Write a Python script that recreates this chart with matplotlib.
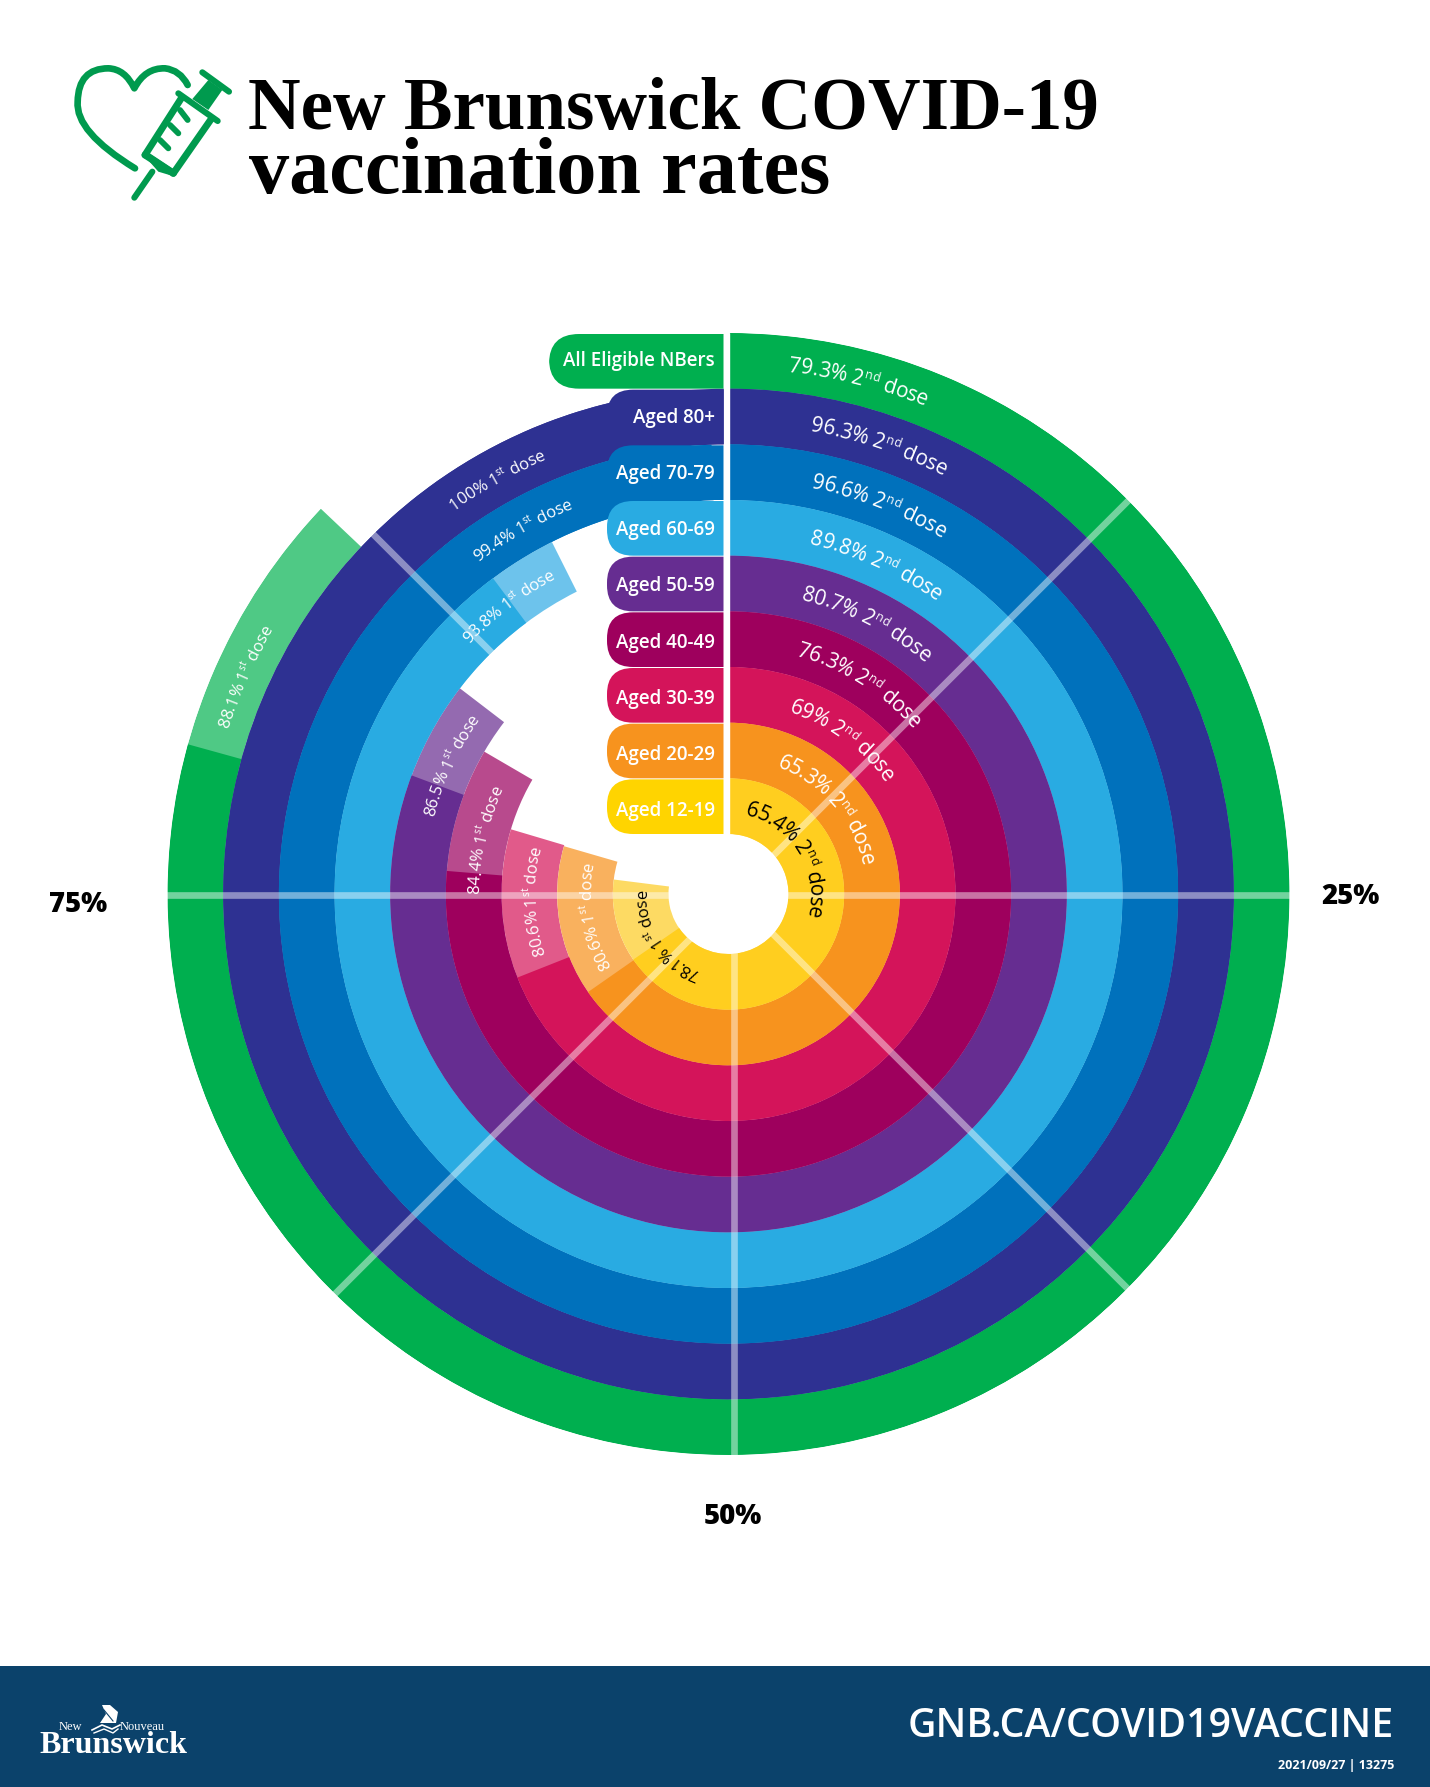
import numpy as np
import matplotlib
matplotlib.use('Agg')
import matplotlib.pyplot as plt
from matplotlib import font_manager as fm
from matplotlib.ft2font import LoadFlags
from matplotlib.patches import PathPatch, Rectangle, Polygon
from matplotlib.path import Path
from matplotlib.transforms import Affine2D

plt.rcParams['font.family'] = ['Open Sans', 'DejaVu Sans']

# --- Data, outermost ring first ---
groups = ['All Eligible NBers', 'Aged 80+', 'Aged 70-79', 'Aged 60-69', 'Aged 50-59',
          'Aged 40-49', 'Aged 30-39', 'Aged 20-29', 'Aged 12-19']
second_dose = [79.3, 96.3, 96.6, 89.8, 80.7, 76.3, 69, 65.3, 65.4]
first_dose = [88.1, 100, 99.4, 93.8, 86.5, 84.4, 80.6, 80.6, 78.1]
# the light arcs in the picture stop about a point short of their printed value
first_dose_drawn = [87.05, 100, 99.4, 92.6, 85.4, 83.4, 79.6, 79.5, 77.0]
spoke_percents = [12.5, 25, 37.5, 50, 62.5, 75, 87.5]
tick_labels = ['25%', '50%', '75%']

colors = ['#00AF4F', '#2E3192', '#0071BC', '#29ABE2', '#662D91',
          '#9E005D', '#D4145A', '#F7931E', '#FFCE1F']
light_colors = ['#4FC985', '#2E3192', '#0071BC', '#6DC3EC', '#946AB0',
                '#B84A8D', '#E15A8A', '#F9B15E', '#FDDA63']
pill_colors = colors[:-1] + ['#FFD400']
text_colors = ['white'] * 8 + ['black']

# where each curved label is centred, degrees clockwise from the top
second_label_at = [14.25, 18.6, 21.25, 24.25, 27.1, 32.05, 36.45, 49.35, 58.95]
first_label_at = [294.2, 330.75, 330.45, 322.6, 294.85, 282.5, 267.85, 260.5, 236.3]

W, H = 1430, 1787
CX, CY, R_IN, R_OUT = 728.5, 894, 60, 561
RING = (R_OUT - R_IN) / len(groups)
DPI = 100

fig = plt.figure(figsize=(W / DPI, H / DPI), dpi=DPI, facecolor='white')

# pixel canvas for everything that is not on the dial
bg = fig.add_axes([0, 0, 1, 1], zorder=0)
bg.set_xlim(0, W)
bg.set_ylim(H, 0)
bg.axis('off')

pol = fig.add_axes([(CX - R_OUT) / W, (H - CY - R_OUT) / H, 2 * R_OUT / W, 2 * R_OUT / H],
                   projection='polar', zorder=1)
pol.set_theta_zero_location('N')
pol.set_theta_direction(-1)
pol.set_ylim(0, R_OUT)
pol.set_axis_off()
pol.patch.set_visible(False)

top = fig.add_axes([0, 0, 1, 1], zorder=2)
top.set_xlim(0, W)
top.set_ylim(H, 0)
top.axis('off')
top.patch.set_visible(False)


def advance(ch, size, weight):
    prop = fm.FontProperties(family='Open Sans', weight=weight)
    font = fm.get_font(fm.findfont(prop))
    font.set_size(size, 72)
    return font.load_char(ord(ch), flags=LoadFlags.NO_HINTING).linearHoriAdvance / 65536


def arc_text(parts, center_deg, r_mid, size, color, weight=500):
    """Lay text out letter by letter along a circle, reading clockwise."""
    px = DPI / 72
    base = r_mid - 0.357 * size * px
    glyphs = []
    for text, sup in parts:
        s = size * 0.6 if sup else size
        lift = 0.36 * size * px if sup else 0
        for ch in text:
            glyphs.append((ch, s, lift, advance(ch, s, weight) * px))
    total = sum(g[3] for g in glyphs)
    pos = -total / 2
    for ch, s, lift, adv in glyphs:
        # spacing is taken on the mid radius, the small rings get too long otherwise
        a = center_deg + np.degrees((pos + adv / 2) / r_mid)
        pol.text(np.radians(a), base + lift, ch, fontsize=s, color=color, weight=weight,
                 rotation=-a, rotation_mode='anchor', ha='center', va='baseline', zorder=6)
        pos += adv


def left_round_box(x0, x1, y0, y1, r):
    verts = [(x1, y0), (x0 + r, y0), (x0, y0), (x0, y0 + r), (x0, y1 - r), (x0, y1), (x0 + r, y1), (x1, y1), (x1, y0)]
    codes = [Path.MOVETO, Path.LINETO, Path.CURVE3, Path.CURVE3, Path.LINETO, Path.CURVE3, Path.CURVE3,
             Path.LINETO, Path.CLOSEPOLY]
    return Path(verts, codes)


# --- Rings ---
for i, group in enumerate(groups):
    r0 = R_OUT - (i + 1) * RING
    pol.bar(0, RING, width=np.radians(first_dose_drawn[i] * 3.6), bottom=r0, align='edge',
            color=light_colors[i], linewidth=0, zorder=2)
    pol.bar(0, RING, width=np.radians(second_dose[i] * 3.6), bottom=r0, align='edge',
            color=colors[i], linewidth=0, zorder=3)

# --- Spokes every 12.5%, their hub sits a little right of the rings' centre ---
# they overrun both ends a bit; white on white does not show
spoke_shift = Affine2D().translate(5.5, -1)
for p in spoke_percents:
    t = np.radians(p * 3.6)
    pol.plot([t, t], [R_IN - 12, R_OUT + 12], color='white', alpha=0.45, linewidth=4.8, clip_on=False,
             solid_capstyle='butt', zorder=4, transform=pol.transData + spoke_shift)

# --- Curved labels ---
for i in range(len(groups)):
    r_mid = R_OUT - (i + 0.5) * RING
    arc_text([(f'{second_dose[i]:g}% 2', False), ('nd', True), (' dose', False)],
             second_label_at[i], r_mid, 15, text_colors[i])
    arc_text([(f'{first_dose[i]:g}% 1', False), ('st', True), (' dose', False)],
             first_label_at[i], r_mid, 12, text_colors[i])

# --- Group labels down the top of the dial ---
top.add_patch(Rectangle((723.5, CY - R_OUT), 5, R_OUT - R_IN, color='white', zorder=1))
for i, group in enumerate(groups):
    y1 = CY - R_IN - (len(groups) - 1 - i) * RING
    y0 = y1 - RING + 1
    x0 = 549 if i == 0 else 607
    r = 30 if i == 0 else 26
    top.add_patch(PathPatch(left_round_box(x0, 723.5, y0, y1, r), facecolor=pill_colors[i],
                            edgecolor='none', zorder=2))
    top.text(715, (y0 + y1) / 2 - 2.4 + 0.56 * i, group, color='white', fontsize=13.5, weight=600,
             ha='right', va='center_baseline', zorder=3)

# --- Percent labels round the outside ---
for label, x, y in zip(tick_labels, [1350, 733, 78], [893, 1513, 901]):
    top.text(x, y, label, color='black', fontsize=19.8, weight=800, ha='center', va='center_baseline')

# --- Title ---
bg.text(248, 129, 'New Brunswick COVID-19', family='Liberation Serif', weight='bold',
        fontsize=52.5, color='black', ha='left', va='baseline')
bg.text(249, 193, 'vaccination rates', family='Liberation Serif', weight='bold',
        fontsize=57.8, color='black', ha='left', va='baseline')

# --- Heart and syringe icon, traced in zoomed coordinates ---
GREEN = '#009A4E'


def ic(pts):
    return [(65 + x / 3, 55 + y / 3) for x, y in pts]


heart = ic([(210, 340), (30, 230), (38, 140), (40, 40), (130, 40), (180, 42), (208, 100),
            (240, 38), (300, 40), (345, 45), (368, 90)])
heart_codes = [Path.MOVETO, Path.CURVE3, Path.CURVE3, Path.CURVE3, Path.CURVE3, Path.CURVE3, Path.CURVE3,
               Path.CURVE3, Path.CURVE3, Path.CURVE3, Path.CURVE3]
bg.add_patch(PathPatch(Path(heart, heart_codes), facecolor='none', edgecolor=GREEN, linewidth=4.8,
                       capstyle='round', joinstyle='round'))
for seg, lw in [([(208, 428), (262, 350)], 4.4), ([(340, 115), (458, 198)], 4.4), ([(412, 52), (492, 110)], 4.4),
                ([(350, 128), (240, 300)], 5), ([(325, 355), (440, 190)], 5), ([(240, 300), (325, 355)], 5),
                ([(345, 165), (368, 195)], 4.2), ([(315, 210), (340, 235)], 4.2), ([(285, 255), (310, 280)], 4.2)]:
    xs, ys = zip(*ic(seg))
    bg.plot(xs, ys, color=GREEN, linewidth=lw, solid_capstyle='round')
bg.add_patch(Polygon(ic([(382, 132), (430, 165), (472, 105), (430, 75)]), closed=True, color=GREEN, linewidth=0))
bg.add_patch(Polygon(ic([(236, 300), (250, 292), (330, 345), (320, 362), (280, 350)]), closed=True, color=GREEN,
                     linewidth=0))

# --- Footer ---
NAVY = '#0B426B'
bg.add_patch(Rectangle((0, 1666), W, H - 1666, color=NAVY, linewidth=0))
bg.text(1394, 1737, 'GNB.CA/COVID19VACCINE', color='white', fontsize=28.3, weight=600, ha='right', va='baseline')
bg.text(1394, 1769, '2021/09/27 | 13275', color='white', fontsize=9, weight=700, ha='right', va='baseline')
bg.text(39, 1753, 'Brunswick', color='white', family='Liberation Serif', weight='bold', fontsize=23,
        ha='left', va='baseline')
bg.text(59, 1730, 'New', color='white', family='Liberation Serif', fontsize=9, ha='left', va='baseline')
bg.text(120, 1730, 'Nouveau', color='white', family='Liberation Serif', fontsize=9, ha='left', va='baseline')
# ship mark
bg.add_patch(Polygon([(102, 1705), (110, 1705), (118, 1712), (116, 1723), (100, 1723), (106, 1714)], closed=True,
                     facecolor='white', linewidth=0))
bg.plot([104, 113], [1710, 1721], color=NAVY, linewidth=0.8)
bg.plot([92, 102, 112, 120], [1730, 1725, 1729, 1725], color='white', linewidth=1.2)
bg.plot([94, 104, 113, 118], [1733, 1729, 1733, 1729], color='white', linewidth=1.0)

fig.savefig('out.png', dpi=DPI, facecolor='white')
